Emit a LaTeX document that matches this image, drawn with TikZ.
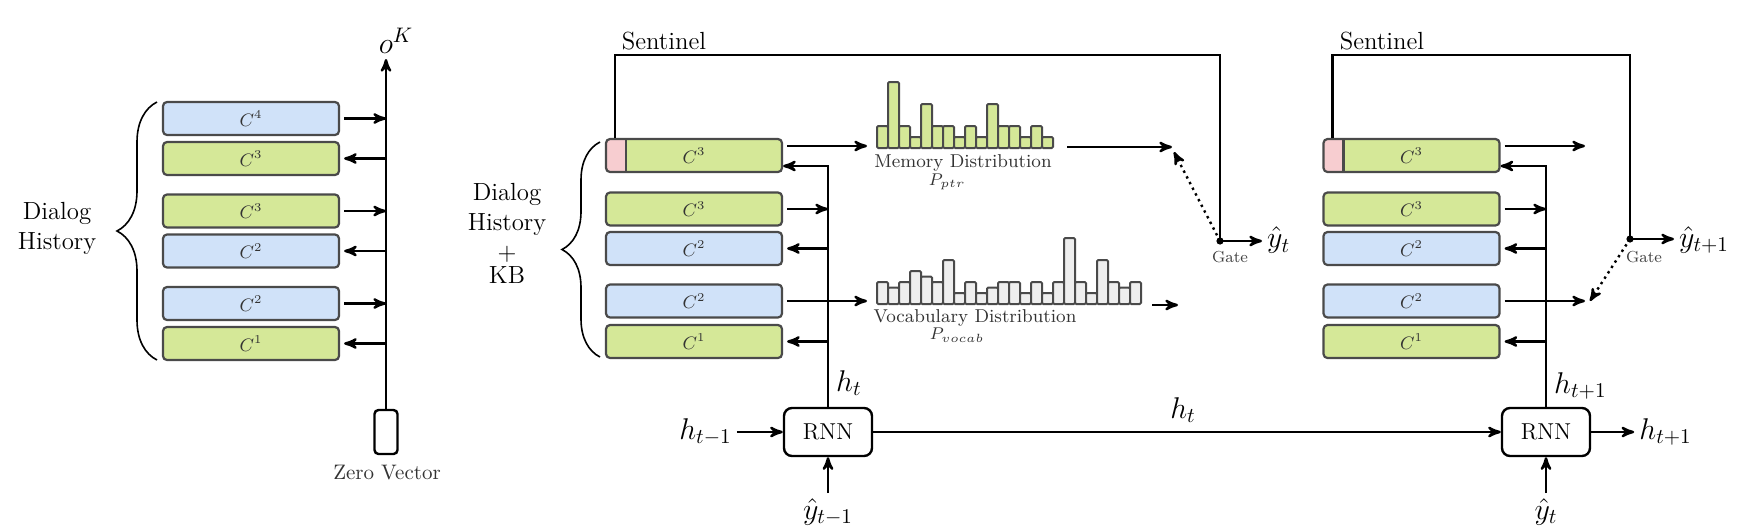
\RequirePackage{fix-cm}
\documentclass[tikz,border=0pt]{standalone}
\usepackage{amsmath}
\usetikzlibrary{arrows,positioning,calc,decorations.pathreplacing}
\definecolor{cellgreen}{HTML}{D5E898}
\definecolor{cellblue}{HTML}{D0E2F9}
\definecolor{cellpink}{HTML}{F7CDD0}
\definecolor{bargray}{HTML}{EEEEEE}
\definecolor{edgegray}{HTML}{4A4A4A}

\begin{document}
\begin{tikzpicture}[x=0.5pt,y=-0.5pt,>=stealth',very thick,
  cell/.style={rectangle,rounded corners=2pt,draw=edgegray,line width=1.1pt,minimum width=88pt,minimum height=16.5pt,inner sep=0pt,text=black!80,font=\fontsize{9}{10}\selectfont},
  greencell/.style={cell,fill=cellgreen},
  bluecell/.style={cell,fill=cellblue},
  sentinel cell/.style={greencell,path picture={
      \fill[cellpink] (path picture bounding box.south west) rectangle ([xshift=10pt]path picture bounding box.north west);
      \draw[edgegray,line width=1.1pt] ([xshift=10pt]path picture bounding box.south west) -- ([xshift=10pt]path picture bounding box.north west);}},
  bar/.style={draw=edgegray,line width=1pt,rounded corners=0.6pt},
  rnn/.style={rectangle,rounded corners=4pt,draw,very thick,minimum width=44pt,minimum height=24pt,font=\fontsize{11.5}{12}\selectfont},
  lab/.style={font=\fontsize{12.4}{15}\selectfont,align=center,inner sep=2pt},
  var/.style={font=\fontsize{15}{16}\selectfont,inner sep=2pt},
  dist/.style={font=\fontsize{9.3}{11}\selectfont,text=black!80,inner sep=0pt},
  sub/.style={font=\fontsize{8.5}{9}\selectfont,text=black!80,inner sep=0pt},
  gate/.style={font=\fontsize{8}{9}\selectfont,text=black!75,inner sep=0pt}]

    \useasboundingbox (0,0) rectangle (1762,526);

    % memory network encoder
    \node[bluecell] (l4) at (251,118.5) {$C^4$};
    \node[greencell] (l3a) at (251,158.5) {$C^3$};
    \node[greencell] (l3b) at (251,211) {$C^3$};
    \node[bluecell] (l2a) at (251,251) {$C^2$};
    \node[bluecell] (l2b) at (251,303.5) {$C^2$};
    \node[greencell] (l1) at (251,343.5) {$C^1$};

    \node[rectangle,rounded corners=2pt,draw,very thick,minimum width=11.5pt,minimum height=22pt,inner sep=0pt] (zero) at (386,432) {};
    \node[dist,font=\fontsize{10.5}{12}\selectfont] (zerotxt) at (387,473) {Zero Vector};
    \node[var] (ok) at (396,41) {$o^K$};
    \coordinate (oktip) at (386,59);
    \draw[->] (zero.north) -- (oktip);

    \foreach \c in {l4,l3b,l2b}
        \draw[->,shorten <=2pt] (\c.east) -- (\c.east -| zero.north);
    \foreach \c in {l3a,l2a,l1}
        \draw[<-,shorten <=2pt] (\c.east) -- (\c.east -| zero.north);

    \draw[thick,decorate,decoration={brace,amplitude=20pt}] (157,360) -- (157,102);
    \node[lab] (dh1) at (57,228) {Dialog\\History};

    % decoder step t
    \node[sentinel cell] (m3s) at (694,155.5) {$C^3$};
    \node[greencell] (m3) at (694,209) {$C^3$};
    \node[bluecell] (m2a) at (694,248.5) {$C^2$};
    \node[bluecell] (m2b) at (694,301) {$C^2$};
    \node[greencell] (m1) at (694,341.5) {$C^1$};

    \draw[thick,decorate,decoration={brace,amplitude=19pt}] (600,357) -- (600,142);
    \node[lab] (dh2) at (507,233) {Dialog\\History\\$+$\\[-3.5pt]KB};

    \node[rnn] (rnn1) at (828,432) {RNN};
    \node[var,left=23pt of rnn1] (hprev) {$h_{t-1}$};
    \node[var,below=18pt of rnn1] (yprev) {$\hat{y}_{t-1}$};
    \draw[->] (hprev) -- (rnn1);
    \draw[->] (yprev) -- (rnn1);

    \draw[->] (rnn1.north) |- ($(m3s.east)+(0,10.5)$);
    \node[var,anchor=west] (ht1) at (831,383) {$h_t$};
    \draw[->,shorten <=2pt] (m3.east) -- (m3.east -| rnn1.north);
    \draw[<-,shorten <=2pt] (m2a.east) -- (m2a.east -| rnn1.north);
    \draw[<-,shorten <=2pt] (m1.east) -- (m1.east -| rnn1.north);

    \coordinate (memin) at (867,146);
    \coordinate (vocin) at (867,301);
    \draw[->,shorten <=2pt] ($(m3s.east)+(0,-9.5)$) -- (memin);
    \draw[->,shorten <=2pt] (m2b.east) -- (vocin);

    \foreach \h [count=\i] in {2,6,2,1,4,2,2,1,2,1,4,2,2,1,2,1}
        \draw[bar,fill=cellgreen] ({866+11*\i},148) rectangle ++(11,{-11*\h});
    \node[dist] (memtxt) at (963,163) {Memory Distribution};
    \node[sub] (pptr) at (947,182) {$P_{ptr}$};

    \foreach \h [count=\i] in {2,1.5,2,3,2.5,2,4,1,2,1,1.5,2,2,1,2,1,2,6,2,1,4,2,1.5,2}
        \draw[bar,fill=bargray] ({866+11*\i},304) rectangle ++(11,{-11*\h});
    \node[dist] (voctxt) at (975,318) {Vocabulary Distribution};
    \node[sub] (pvoc) at (957,335) {$P_{vocab}$};

    \coordinate (memout) at (1067,147);
    \coordinate (mixA) at (1172,147);
    \coordinate (vocout) at (1152,305);
    \coordinate (mixB) at (1178,305);
    \draw[->] (memout) -- (mixA);
    \draw[->] (vocout) -- (mixB);

    \coordinate (gate1) at (1220,241);
    \coordinate (gtip1) at (1174,152);
    \fill (gate1) circle (1.8pt);
    \draw[->,dotted] (gate1) -- (gtip1);
    \node[var,anchor=west] (yt) at (1262,240) {$\hat{y}_t$};
    \draw[->] (gate1) -- (gate1 -| yt.west);
    \node[gate] (gatetxt1) at (1230,257) {Gate};
    \draw ($(m3s.north west)+(10,0)$) -- ++(0,-83) -| (gate1);
    \node[lab] (sent1) at (664,41) {Sentinel};

    % decoder step t+1
    \node[rnn] (rnn2) at (1546,432) {RNN};
    \draw[->] (rnn1) -- (rnn2);
    \node[var] (htmid) at (1183,410) {$h_t$};

    \node[sentinel cell] (r3s) at (1411.5,155.5) {$C^3$};
    \node[greencell] (r3) at (1411.5,209) {$C^3$};
    \node[bluecell] (r2a) at (1411.5,248.5) {$C^2$};
    \node[bluecell] (r2b) at (1411.5,301) {$C^2$};
    \node[greencell] (r1) at (1411.5,341.5) {$C^1$};

    \draw[->] (rnn2.north) |- ($(r3s.east)+(0,10.5)$);
    \node[var,anchor=west] (ht2) at (1549,386) {$h_{t+1}$};
    \draw[->,shorten <=2pt] (r3.east) -- (r3.east -| rnn2.north);
    \draw[<-,shorten <=2pt] (r2a.east) -- (r2a.east -| rnn2.north);
    \draw[<-,shorten <=2pt] (r1.east) -- (r1.east -| rnn2.north);

    \coordinate (rmemtip) at (1585,146);
    \coordinate (rvoctip) at (1585,301);
    \draw[->,shorten <=2pt] ($(r3s.east)+(0,-9.5)$) -- (rmemtip);
    \draw[->,shorten <=2pt] (r2b.east) -- (rvoctip);

    \coordinate (gate2) at (1630,239);
    \coordinate (gtip2) at (1590,301);
    \fill (gate2) circle (1.8pt);
    \draw[->,dotted] (gate2) -- (gtip2);
    \node[var,anchor=west] (yt1) at (1674,240) {$\hat{y}_{t+1}$};
    \draw[->] (gate2) -- (gate2 -| yt1.west);
    \node[gate] (gatetxt2) at (1644,257) {Gate};
    \draw ($(r3s.north west)+(10,0)$) -- ++(0,-83) -| (gate2);
    \node[lab] (sent2) at (1382,41) {Sentinel};

    \node[var,right=21.5pt of rnn2] (hnext) {$h_{t+1}$};
    \node[var,below=18pt of rnn2] (ytin) {$\hat{y}_t$};
    \draw[->] (rnn2) -- (hnext);
    \draw[->] (ytin) -- (rnn2);
\end{tikzpicture}
\end{document}
